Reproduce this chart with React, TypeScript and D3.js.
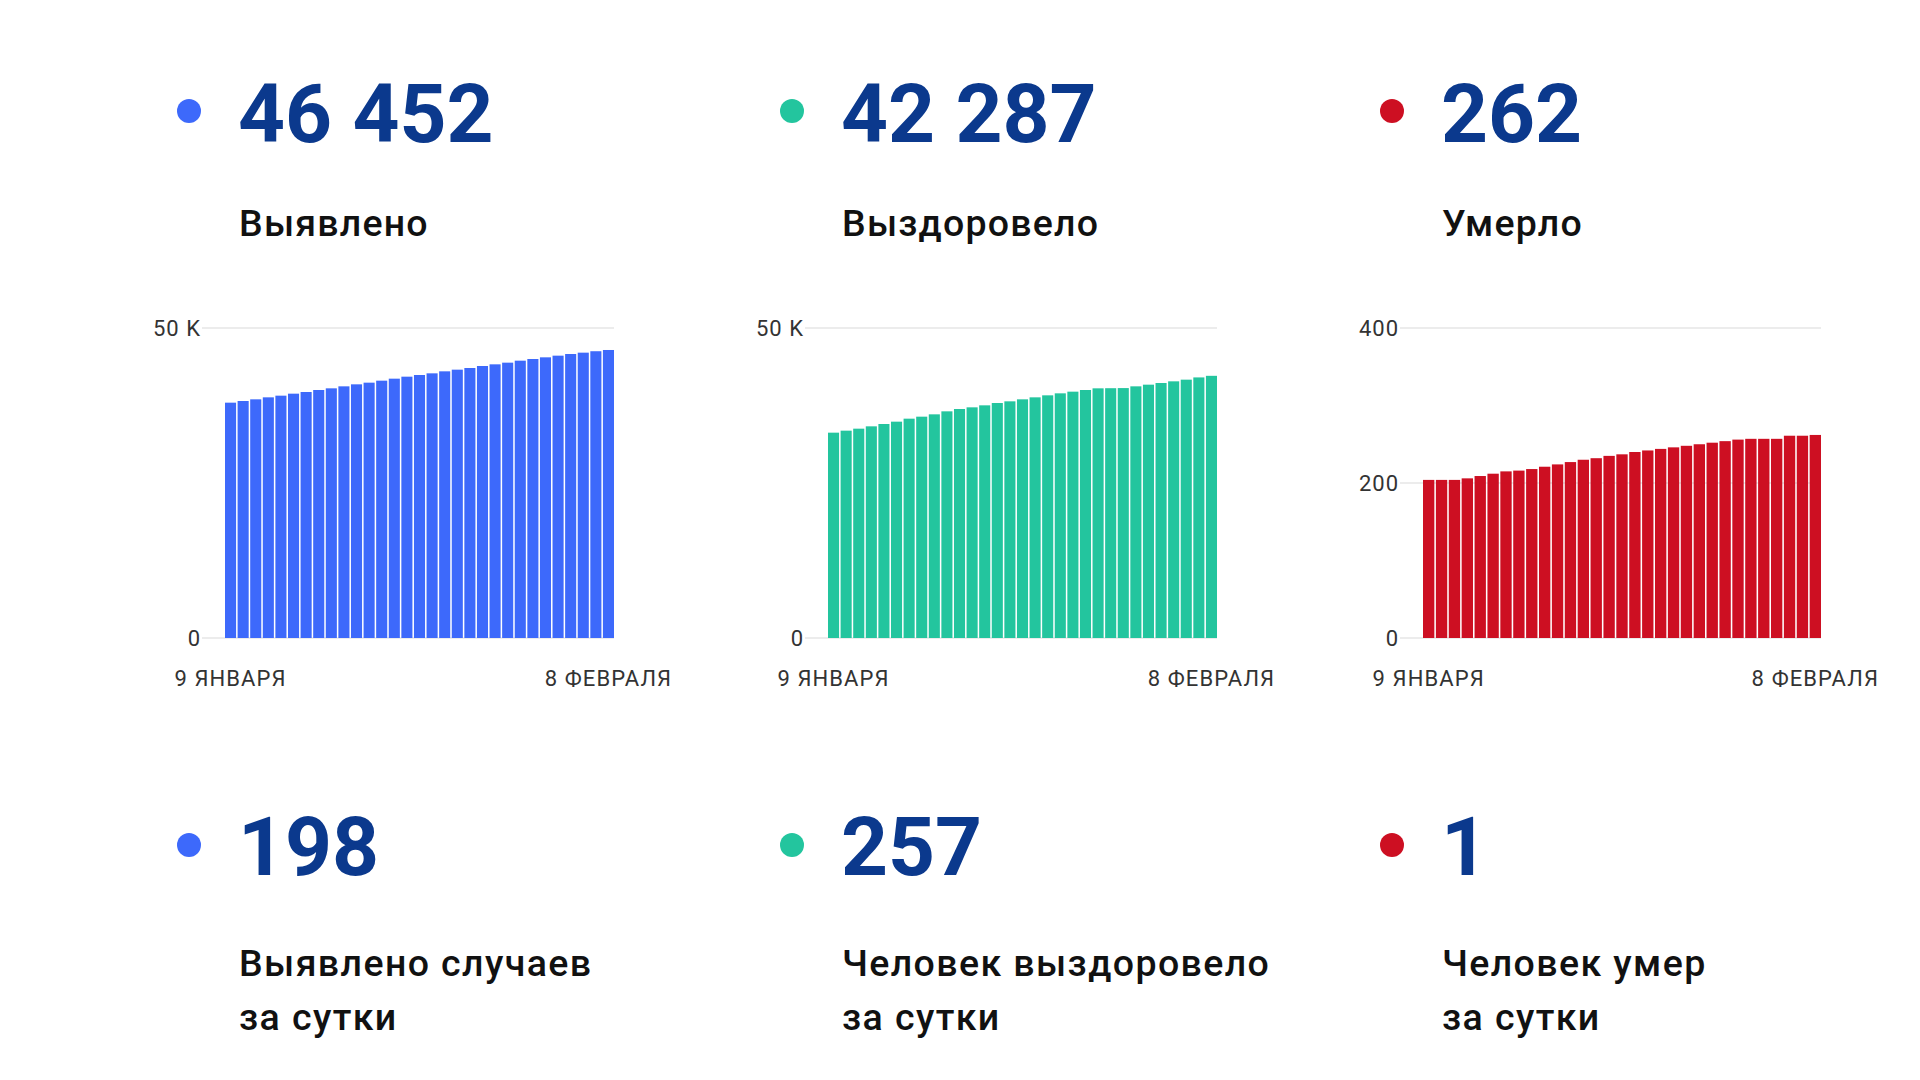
import * as d3 from "d3";
import React, { useEffect, useRef } from "react";

const days = [
  "09.01", "10.01", "11.01", "12.01", "13.01", "14.01", "15.01", "16.01",
  "17.01", "18.01", "19.01", "20.01", "21.01", "22.01", "23.01", "24.01",
  "25.01", "26.01", "27.01", "28.01", "29.01", "30.01", "31.01", "01.02",
  "02.02", "03.02", "04.02", "05.02", "06.02", "07.02", "08.02",
];

const confirmed = [
  37957, 38226, 38495, 38817, 39086, 39408, 39677, 40000, 40269, 40591, 40914,
  41183, 41505, 41828, 42150, 42419, 42688, 43011, 43280, 43548, 43871, 44140,
  44409, 44731, 45000, 45269, 45538, 45806, 46022, 46254, 46452,
];

const recovered = [
  33118, 33441, 33763, 34140, 34516, 34892, 35376, 35699, 36075, 36559, 36935,
  37204, 37527, 37903, 38172, 38495, 38817, 39140, 39462, 39731, 40000, 40269,
  40290, 40310, 40591, 40860, 41129, 41398, 41667, 42030, 42287,
];

const deaths = [
  204, 204, 204, 206, 209, 212, 215, 216, 218, 221, 224, 227, 230, 232, 235,
  237, 240, 242, 244, 246, 248, 250, 252, 254, 256, 257, 257, 257, 261, 261, 262,
];

const totals = ["46 452", "42 287", "262"];
const totalLabels = ["Выявлено", "Выздоровело", "Умерло"];
const daily = ["198", "257", "1"];
const dailyLabels = [
  ["Выявлено случаев", "за сутки"],
  ["Человек выздоровело", "за сутки"],
  ["Человек умер", "за сутки"],
];
const xTickLabels = ["9 ЯНВАРЯ", "8 ФЕВРАЛЯ"];
const yMax = [50000, 50000, 400];
const yTicks = [
  [0, 50000],
  [0, 50000],
  [0, 200, 400],
];
const yTickLabels = [
  ["0", "50 K"],
  ["0", "50 K"],
  ["0", "200", "400"],
];
const colors = ["#3d69fb", "#23c59e", "#cd0f22"];

const series = [confirmed, recovered, deaths];

const App: React.FC = () => {
  const ref = useRef<SVGSVGElement>(null);

  useEffect(() => {
    document.body.style.margin = "0";
    if (!ref.current) return;
    const svg = d3.select(ref.current);
    svg.selectAll("*").remove();

    const font = "Roboto, 'Noto Sans', sans-serif";
    const colX = [0, 603, 1203];
    // plot area of each small bar chart (left, right)
    const plotX = [
      [225, 614],
      [828, 1217],
      [1423, 1821],
    ];

    series.forEach((values, i) => {
      const g = svg.append("g").attr("transform", `translate(${colX[i]},0)`);

      // headline block
      g.append("circle").attr("cx", 189).attr("cy", 111).attr("r", 12).attr("fill", colors[i]);
      g.append("text")
        .attr("x", 238)
        .attr("y", 142)
        .attr("font-family", font)
        .attr("font-weight", 700)
        .attr("font-size", 82)
        .attr("fill", "#0b398d")
        .text(totals[i]);
      g.append("text")
        .attr("x", 239)
        .attr("y", 236)
        .attr("font-family", font)
        .attr("font-weight", 500)
        .attr("font-size", 37.5)
        .attr("letter-spacing", 1.2)
        .attr("fill", "#111")
        .text(totalLabels[i]);

      // daily block
      g.append("circle").attr("cx", 189).attr("cy", 845).attr("r", 12).attr("fill", colors[i]);
      g.append("text")
        .attr("x", 238)
        .attr("y", 875)
        .attr("font-family", font)
        .attr("font-weight", 700)
        .attr("font-size", 82)
        .attr("fill", "#0b398d")
        .text(daily[i]);
      g.append("text")
        .attr("font-family", font)
        .attr("font-weight", 500)
        .attr("font-size", 37.5)
        .attr("letter-spacing", 1.4)
        .attr("fill", "#111")
        .selectAll("tspan")
        .data(dailyLabels[i])
        .join("tspan")
        .attr("x", 239)
        .attr("y", (d, j) => 976 + j * 54)
        .text((d) => d);

      // bar chart
      const [x0, x1] = plotX[i];
      const x = d3.scaleBand<string>().domain(days).range([x0, x1]).paddingInner(0.12);
      const y = d3.scaleLinear().domain([0, yMax[i]]).range([638, 328]);
      const c = svg.append("g");

      c.selectAll("line.grid")
        .data(yTicks[i])
        .join("line")
        .attr("class", "grid")
        .attr("x1", x0 - 23)
        .attr("x2", x1)
        .attr("y1", (d) => y(d))
        .attr("y2", (d) => y(d))
        .attr("stroke", "#e6e6e6")
        .attr("stroke-width", 1.5);

      c.selectAll("text.ytick")
        .data(yTicks[i])
        .join("text")
        .attr("class", "ytick")
        .attr("x", x0 - 24)
        .attr("y", (d) => y(d))
        .attr("dy", "0.35em")
        .attr("text-anchor", "end")
        .attr("font-family", font)
        .attr("font-size", 22)
        .attr("letter-spacing", 1)
        .attr("fill", "#333")
        .text((d, j) => yTickLabels[i][j]);

      c.selectAll("rect.bar")
        .data(values)
        .join("rect")
        .attr("class", "bar")
        .attr("x", (d, j) => x(days[j])!)
        .attr("width", x.bandwidth())
        .attr("y", (d) => y(d))
        .attr("height", (d) => y(0) - y(d))
        .attr("fill", colors[i]);

      const ends = [days[0], days[days.length - 1]];
      c.selectAll("text.xtick")
        .data(ends)
        .join("text")
        .attr("class", "xtick")
        .attr("x", (d) => x(d)! + x.bandwidth() / 2)
        .attr("y", 686)
        .attr("text-anchor", "middle")
        .attr("font-family", font)
        .attr("font-size", 22)
        .attr("letter-spacing", 1.1)
        .attr("fill", "#333")
        .text((d, j) => xTickLabels[j]);
    });
  }, []);

  return (
    <svg
      ref={ref}
      width={1920}
      height={1080}
      style={{ display: "block", background: "#fff" }}
    />
  );
};

export default App;
